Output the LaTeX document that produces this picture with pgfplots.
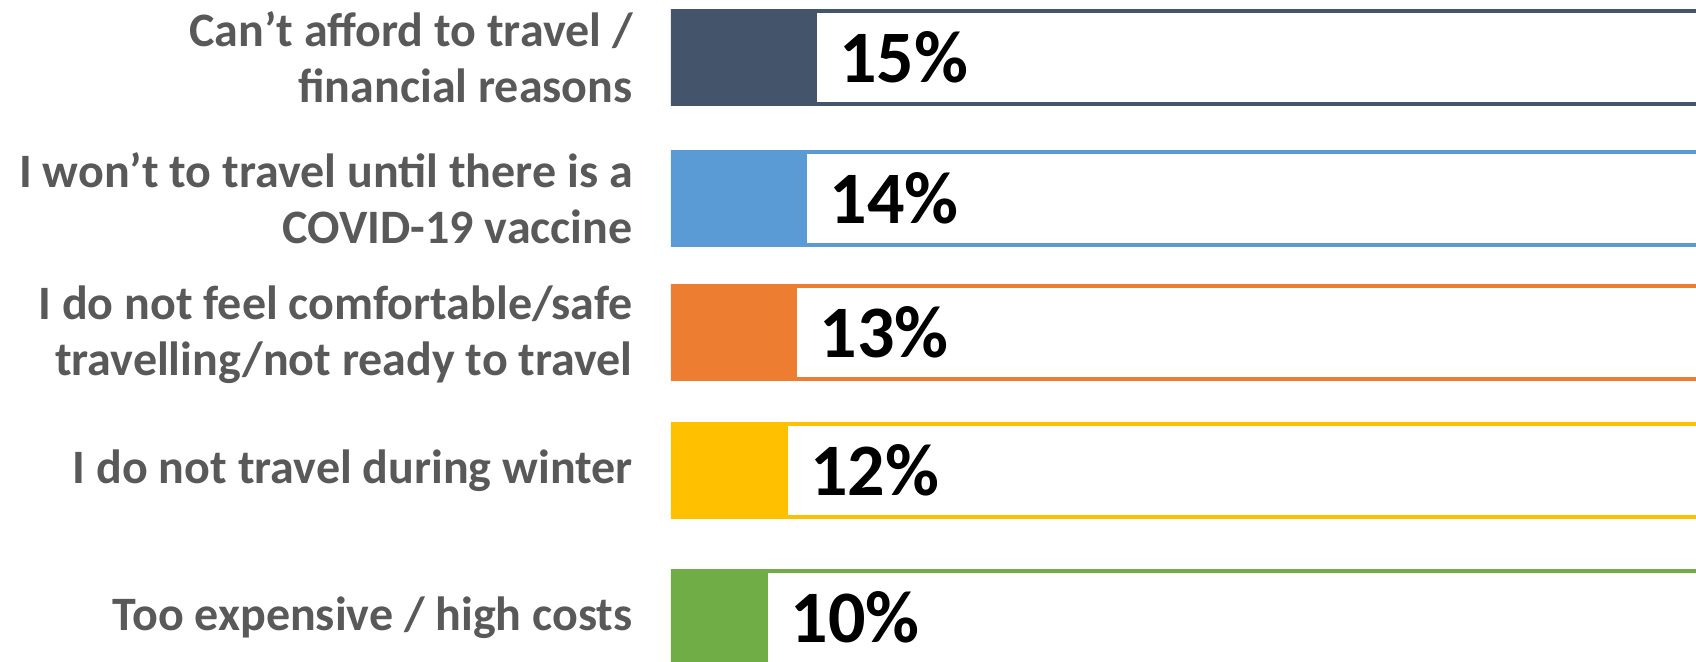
\documentclass[border=0pt]{standalone}
\usepackage{fontspec}
\setmainfont{Carlito}
\usepackage{pgfplots}
\pgfplotsset{compat=1.18}
\definecolor{cNavy}{HTML}{44546A}
\definecolor{cBlue}{HTML}{5B9BD5}
\definecolor{cOrange}{HTML}{ED7D31}
\definecolor{cYellow}{HTML}{FFC000}
\definecolor{cGreen}{HTML}{70AD47}
\definecolor{labelgray}{HTML}{595959}
\pgfplotsset{
  outlinebar/.style={xbar, bar shift=0pt, bar width=46.5pt, line width=2pt, fill=white, draw=#1},
  fillbar/.style={xbar, bar shift=0pt, bar width=48.5pt, fill=#1, draw=none},
  pct/.style={nodes near coords={#1\%}, nodes near coords style={anchor=west, inner sep=0pt, xshift=11pt, text=black, font=\bfseries\fontsize{37}{40}\selectfont}},
}
\begin{document}
\begin{tikzpicture}
\begin{axis}[
  at={(0,0)}, anchor=south west,
  scale only axis, width=512.5pt, height=330.5pt,
  xmin=0, xmax=105.34, ymin=0, ymax=661, y dir=reverse,
  axis line style={draw=none}, xtick=\empty,
  ytick={57,198.5,335,470.5,617.5},
  yticklabels={{Can’t afford to travel /\\financial reasons},
               {I won’t to travel until there is a\\COVID-19 vaccine},
               {I do not feel comfortable/safe\\travelling/not ready to travel},
               {I do not travel during winter},
               {Too expensive / high costs}},
  major tick length=0pt,
  yticklabel style={align=right, anchor=east, font=\bfseries\fontsize{24}{28}\selectfont, text=labelgray, inner sep=0pt, xshift=-19pt},
  clip=true,
]
% outlines
\addplot[outlinebar=cNavy] coordinates {(200,57)};
\addplot[outlinebar=cBlue] coordinates {(200,198.5)};
\addplot[outlinebar=cOrange] coordinates {(200,332)};
\addplot[outlinebar=cYellow] coordinates {(200,470.5)};
\addplot[outlinebar=cGreen] coordinates {(200,617.5)};
% values
\addplot[fillbar=cNavy, pct=15] coordinates {(15,57)};
\addplot[fillbar=cBlue, pct=14] coordinates {(14,198.5)};
\addplot[fillbar=cOrange, pct=13] coordinates {(13,332)};
\addplot[fillbar=cYellow, pct=12] coordinates {(12,470.5)};
\addplot[fillbar=cGreen, pct=10] coordinates {(10,617.5)};
\end{axis}
\pgfresetboundingbox
\path[use as bounding box] (-335.5pt,0) rectangle (512.5pt,330.5pt);
\end{tikzpicture}
\end{document}
